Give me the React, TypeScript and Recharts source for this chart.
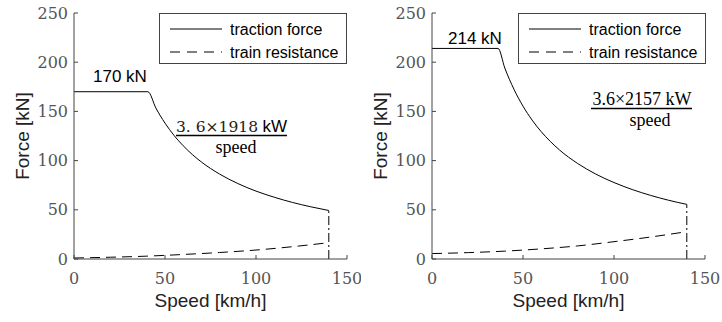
import React from 'react';
import { LineChart, Line, XAxis, YAxis } from 'recharts';

// left panel (1918 kW)
const speedTractionA = [0, 40.6, 45, 50, 55, 60, 65, 70, 80, 90, 100, 110, 120, 130, 140];
const tractionA = [170, 170, 153.4, 138.1, 125.5, 115.1, 106.2, 98.6, 86.3, 76.7, 69.0, 62.8, 57.5, 53.1, 49.3];
const speedResistA = [0, 20, 40, 60, 80, 100, 120, 140];
const resistA = [1.0, 1.8, 2.9, 4.6, 6.6, 9.1, 12.5, 16.6];

// right panel (2157 kW)
const speedTractionB = [0, 36.3, 40, 45, 50, 55, 60, 65, 70, 80, 90, 100, 110, 120, 130, 140];
const tractionB = [214, 214, 194.1, 172.6, 155.3, 141.2, 129.4, 119.5, 110.9, 97.1, 86.3, 77.7, 70.6, 64.7, 59.7, 55.5];
const speedResistB = [0, 20, 40, 60, 80, 100, 120, 140];
const resistB = [5.5, 6.5, 8.0, 10.3, 13.3, 17.6, 22.3, 27.8];

const xTicks = [0, 50, 100, 150];
const yTicks = [0, 50, 100, 150, 200, 250];
const maxSpeed = 140;

const AXIS = '#444';
const tickFont = { fontFamily: 'DejaVu Serif', fontSize: 16, fill: '#555' };
const sans = 'Liberation Sans, Arial, sans-serif';

const toRows = (xs: number[], ys: number[]) => xs.map((x, i) => ({ speed: x, force: ys[i] }));

function LegendBox({ x }: { x: number }) {
  return (
    <g transform={`translate(${x},13)`}>
      <rect x={0.5} y={0.5} width={187} height={50} fill='#fff' stroke={AXIS} />
      <line x1={11} x2={63} y1={16} y2={16} stroke='#000' />
      <text x={71} y={21.5} fontFamily={sans} fontSize={16} fill='#000'>traction force</text>
      <line x1={11} x2={63} y1={39} y2={39} stroke='#000' strokeDasharray='10 7' />
      <text x={71} y={44.5} fontFamily={sans} fontSize={16} fill='#000'>train resistance</text>
    </g>
  );
}

interface PanelProps {
  speedT: number[];
  traction: number[];
  speedR: number[];
  resist: number[];
  left: number;
  right: number;
  legendLeft: number;
  labelDx: number;
  children?: React.ReactNode;
}

function Panel({ speedT, traction, speedR, resist, left, right, legendLeft, labelDx, children }: PanelProps) {
  const tractionRows = toRows(speedT, traction);
  const resistRows = toRows(speedR, resist);
  const endRows = toRows([maxSpeed, maxSpeed], [0, traction[traction.length - 1]]);
  return (
    <div style={{ position: 'relative', width: 361, height: 322 }}>
      <LineChart width={361} height={322} margin={{ top: 13, right: right, bottom: 3, left: 0 }}>
        <XAxis
          xAxisId='b'
          type='number'
          dataKey='speed'
          domain={[0, 150]}
          ticks={xTicks}
          tickSize={-4}
          tickMargin={18}
          height={60}
          stroke={AXIS}
          tick={tickFont}
          label={{ value: 'Speed [km/h]', position: 'center', dy: 11, fontFamily: sans, fontSize: 19, fill: '#222' }}
        />
        <XAxis xAxisId='t' orientation='top' type='number' dataKey='speed' domain={[0, 150]} ticks={xTicks} tickSize={-4} tick={false} height={0} stroke={AXIS} />
        <YAxis
          yAxisId='l'
          type='number'
          domain={[0, 250]}
          ticks={yTicks}
          tickSize={-4}
          tickMargin={10}
          width={left}
          stroke={AXIS}
          tick={tickFont}
          label={{ value: 'Force [kN]', angle: -90, position: 'center', dx: labelDx, fontFamily: sans, fontSize: 19, fill: '#222' }}
        />
        <YAxis yAxisId='r' orientation='right' type='number' domain={[0, 250]} ticks={yTicks} tickSize={-4} tick={false} width={0} stroke={AXIS} />
        <Line xAxisId='b' yAxisId='l' data={tractionRows} dataKey='force' type='monotone' stroke='#000' strokeWidth={1} dot={false} isAnimationActive={false} />
        <Line xAxisId='b' yAxisId='l' data={resistRows} dataKey='force' type='monotone' stroke='#000' strokeWidth={1} strokeDasharray='10 6' dot={false} isAnimationActive={false} />
        <Line xAxisId='b' yAxisId='l' data={endRows} dataKey='force' type='linear' stroke='#000' strokeWidth={1} strokeDasharray='9 3 2 3' dot={false} isAnimationActive={false} />
      </LineChart>
      <svg width={361} height={322} style={{ position: 'absolute', left: 0, top: 0, pointerEvents: 'none' }}>
        <LegendBox x={legendLeft} />
        {children}
      </svg>
    </div>
  );
}

export default function App() {
  return (
    <div style={{ position: 'absolute', left: 0, top: 0, width: 722, height: 322, display: 'flex', background: '#fff' }}>
      <Panel speedT={speedTractionA} traction={tractionA} speedR={speedResistA} resist={resistA} left={74} right={14} legendLeft={159} labelDx={-15}>
        <text x={93} y={82} fontFamily={sans} fontSize={17} fill='#000'>170 kN</text>
        <text x={176} y={132} fontFamily='DejaVu Serif' fontSize={15.5} fill='#222'>3. 6×1918</text>
        <text x={287} y={132} textAnchor='end' fontFamily={sans} fontSize={17} fill='#000'>kW</text>
        <line x1={176} x2={287} y1={135.5} y2={135.5} stroke='#000' strokeWidth={1.5} />
        <text x={236} y={153} textAnchor='middle' fontFamily='Liberation Serif' fontSize={18} fill='#000'>speed</text>
      </Panel>
      <Panel speedT={speedTractionB} traction={tractionB} speedR={speedResistB} resist={resistB} left={71} right={17} legendLeft={157} labelDx={-16.5}>
        <text x={87} y={44} fontFamily={sans} fontSize={17} fill='#000'>214 kN</text>
        <text x={281} y={105} textAnchor='middle' fontFamily='Liberation Serif' fontSize={18} fill='#000'>3.6×2157 kW</text>
        <line x1={230} x2={331} y1={108.5} y2={108.5} stroke='#000' strokeWidth={1.5} />
        <text x={289} y={126} textAnchor='middle' fontFamily='Liberation Serif' fontSize={18} fill='#000'>speed</text>
      </Panel>
    </div>
  );
}
